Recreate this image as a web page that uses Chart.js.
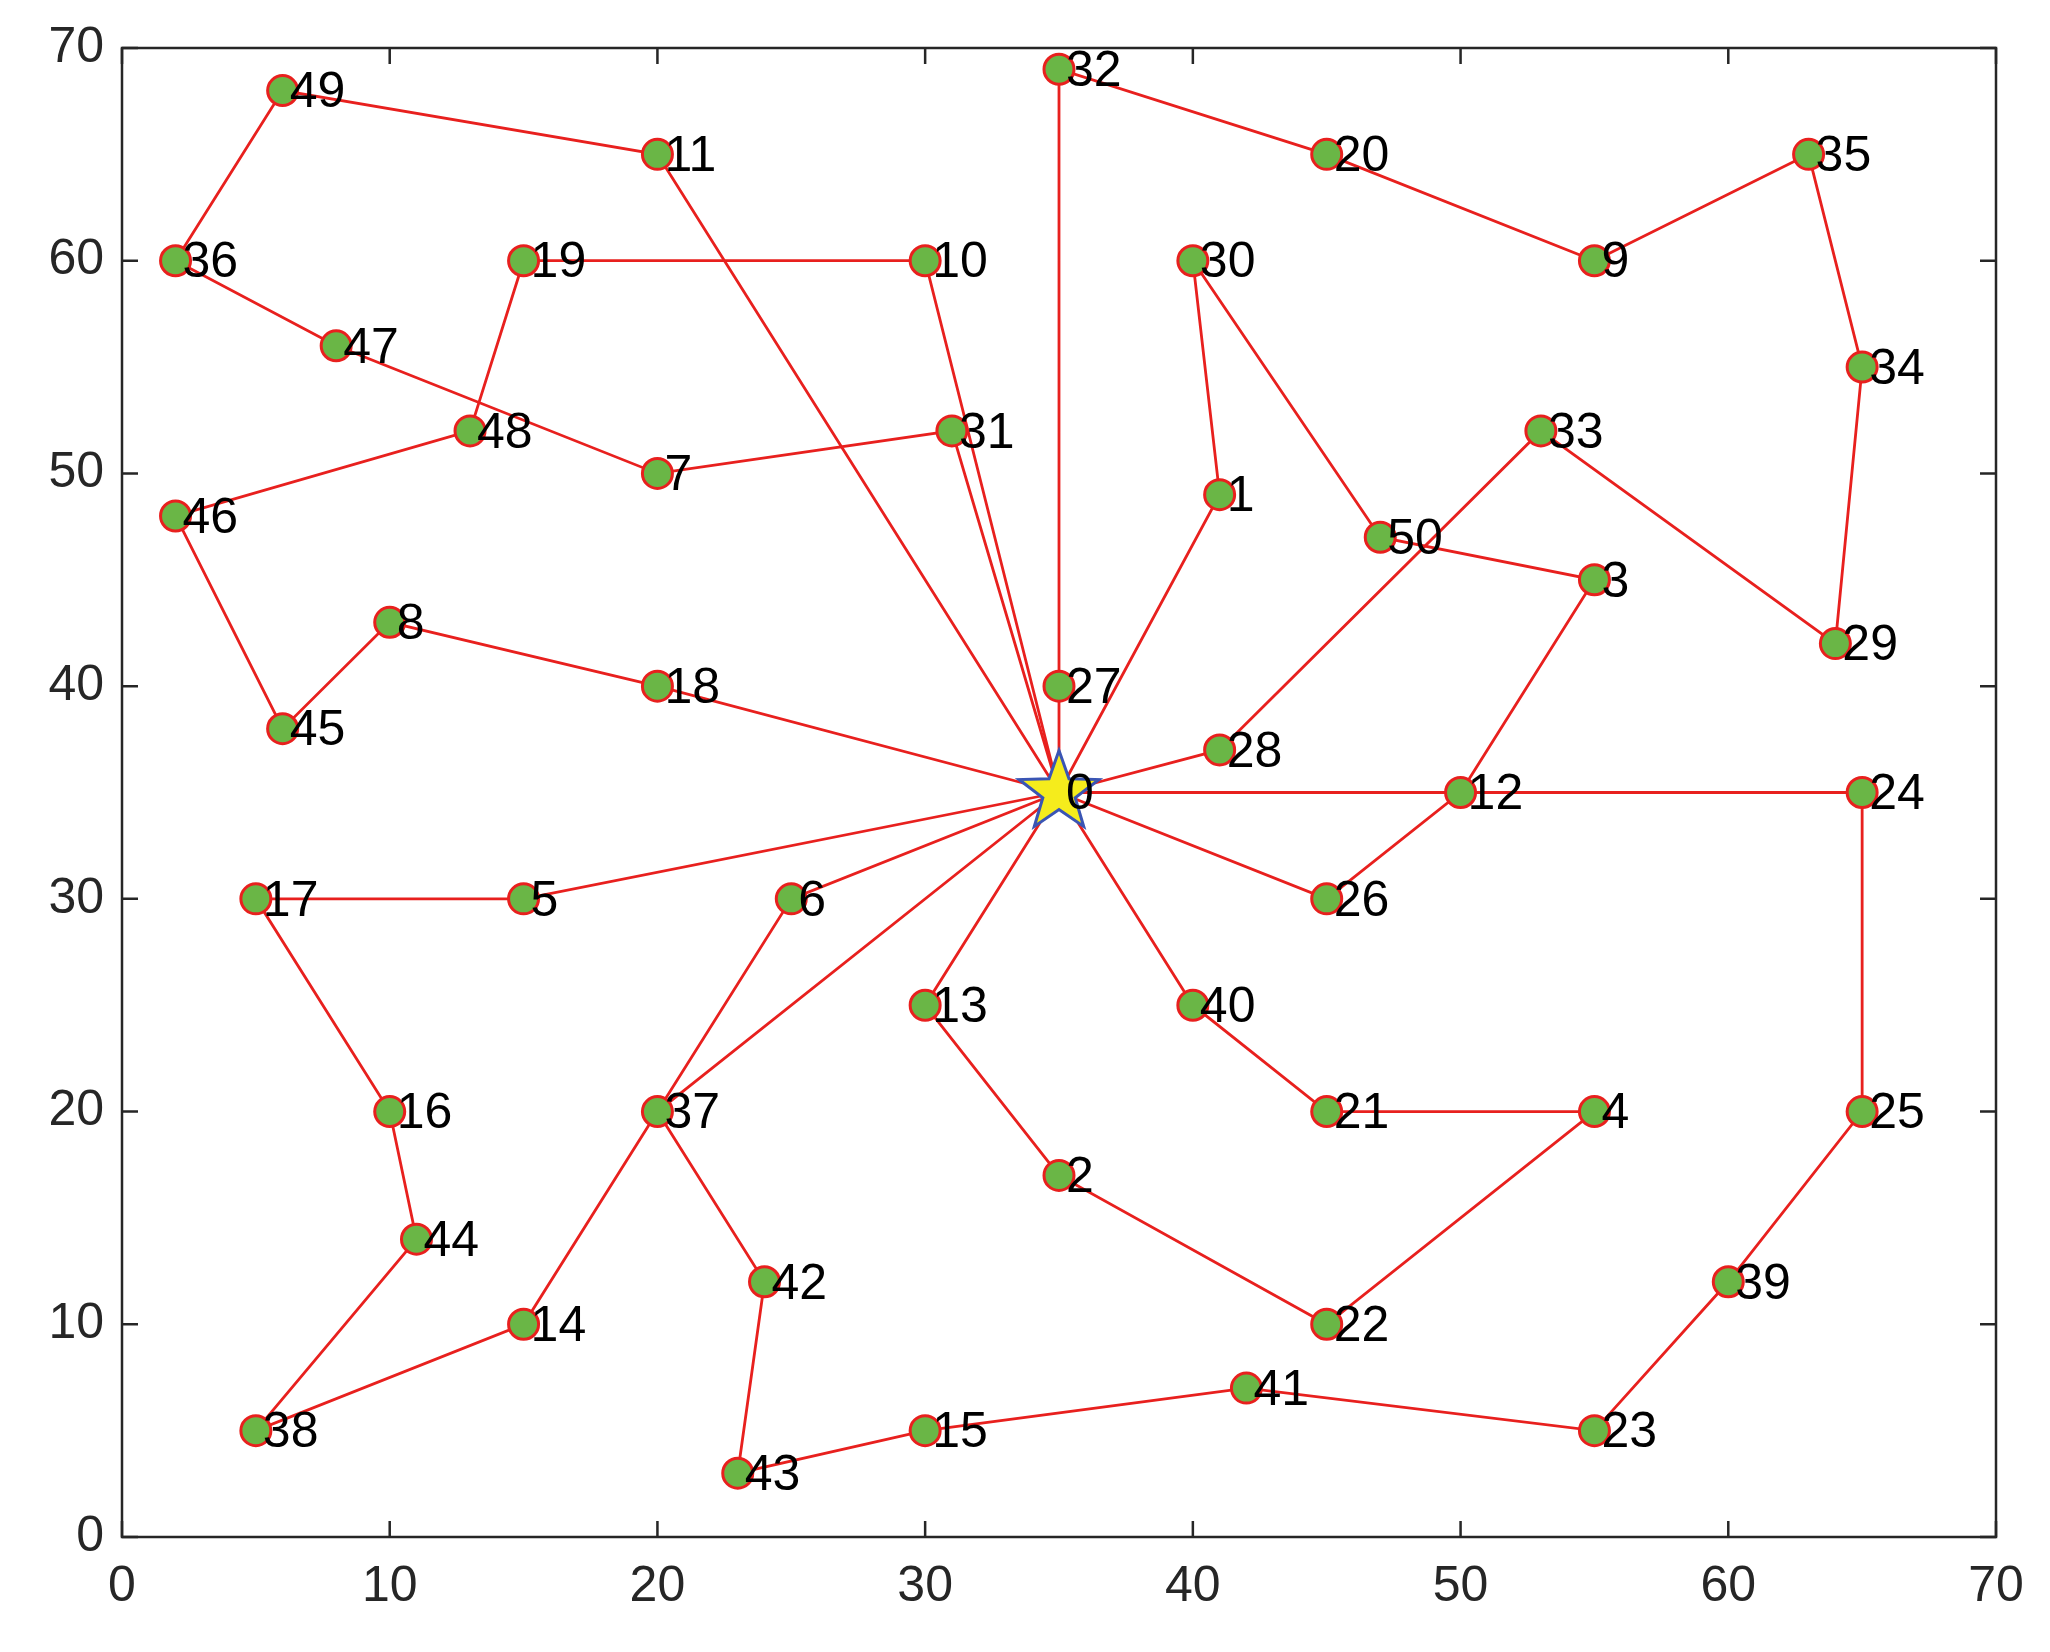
<!DOCTYPE html>
<html><head><meta charset="utf-8">
<script src="https://cdn.jsdelivr.net/npm/chart.js@4"></script>
<style>html,body{margin:0;padding:0;background:#fff}</style>
</head><body>
<canvas id="c" width="2050" height="1652"></canvas>
<script>
const nodeIds = [0,1,2,3,4,5,6,7,8,9,10,11,12,13,14,15,16,17,18,19,20,21,22,23,24,25,26,27,28,29,30,31,32,33,34,35,36,37,38,39,40,41,42,43,44,45,46,47,48,49,50];
const nodeX = [35,41,35,55,55,15,25,20,10,55,30,20,50,30,15,30,10,5,20,15,45,45,45,55,65,65,45,35,41,64,40,31,35,53,65,63,2,20,5,60,40,42,24,23,11,6,2,8,13,6,47];
const nodeY = [35,49,17,45,20,30,30,50,43,60,60,65,35,25,10,5,20,30,40,60,65,20,10,5,35,20,30,40,37,42,60,52,69,52,55,65,60,20,5,12,25,7,12,3,14,38,48,56,52,68,47];
const routes = [
  [0,27,32,20,9,35,34,29,33,28,0],
  [0,1,30,50,3,12,26,0],
  [0,24,25,39,23,41,15,43,42,37,0],
  [0,6,37,14,38,44,16,17,5,0],
  [0,40,21,4,22,2,13,0],
  [0,18,8,45,46,48,19,10,0],
  [0,11,49,36,47,7,31,0]
];
const xTicks = [0,10,20,30,40,50,60,70];
const yTicks = [0,10,20,30,40,50,60,70];

const datasets = routes.map(r => ({
  type:'line', data: r.map(i => ({x:nodeX[i], y:nodeY[i]})),
  borderColor:'#e8201e', borderWidth:2.8, pointRadius:0, fill:false, tension:0, order:2
}));
datasets.push({
  type:'scatter', data: nodeIds.slice(1).map(i => ({x:nodeX[i], y:nodeY[i]})),
  backgroundColor:'#6ab646', borderColor:'#e8201e', borderWidth:3, pointRadius:15, order:1
});

const deco = {
  id:'deco',
  afterDatasetsDraw(chart){
    const ctx = chart.ctx, xs = chart.scales.x, ys = chart.scales.y, a = chart.chartArea;
    const cx = xs.getPixelForValue(nodeX[0]), cy = ys.getPixelForValue(nodeY[0]);
    ctx.save();
    ctx.beginPath();
    const R=42, r=17;
    for(let k=0;k<10;k++){
      const ang = -Math.PI/2 + k*Math.PI/5, rr = k%2?r:R;
      const px = cx+rr*Math.cos(ang), py = cy+rr*Math.sin(ang);
      k?ctx.lineTo(px,py):ctx.moveTo(px,py);
    }
    ctx.closePath(); ctx.fillStyle='#f5ec1c'; ctx.fill();
    ctx.strokeStyle='#3a55b4'; ctx.lineWidth=3; ctx.stroke();
    ctx.fillStyle='#000'; ctx.font='50px "Liberation Sans", Arial'; ctx.textBaseline='middle'; ctx.textAlign='left';
    nodeIds.forEach(i => {
      ctx.fillText(String(i), xs.getPixelForValue(nodeX[i])+7, ys.getPixelForValue(nodeY[i])+3);
    });
    ctx.strokeStyle='#262626'; ctx.lineWidth=2.5;
    ctx.strokeRect(a.left,a.top,a.right-a.left,a.bottom-a.top);
    ctx.beginPath();
    xTicks.forEach(v=>{const p=xs.getPixelForValue(v);
      ctx.moveTo(p,a.bottom);ctx.lineTo(p,a.bottom-16);ctx.moveTo(p,a.top);ctx.lineTo(p,a.top+16);});
    yTicks.forEach(v=>{const p=ys.getPixelForValue(v);
      ctx.moveTo(a.left,p);ctx.lineTo(a.left+16,p);ctx.moveTo(a.right,p);ctx.lineTo(a.right-16,p);});
    ctx.stroke();
    ctx.restore();
  }
};

new Chart(document.getElementById('c'), {
  data:{datasets},
  options:{
    responsive:false, animation:false, clip:false,
    layout:{padding:{left:0,right:54,top:48,bottom:0}},
    plugins:{legend:{display:false},tooltip:{enabled:false}},
    scales:{
      x:{type:'linear',min:0,max:70,
        afterBuildTicks(s){s.ticks=xTicks.map(v=>({value:v}));},
        afterFit(s){s.height=115;},
        grid:{display:false}, border:{display:false},
        ticks:{color:'#262626',font:{size:50,family:'"Liberation Sans", Arial'},padding:12,maxRotation:0}},
      y:{type:'linear',min:0,max:70,
        afterBuildTicks(s){s.ticks=yTicks.map(v=>({value:v}));},
        afterFit(s){s.width=122;},
        grid:{display:false}, border:{display:false},
        ticks:{color:'#262626',font:{size:50,family:'"Liberation Sans", Arial'},padding:10}}
    }
  },
  plugins:[deco]
});
</script>
</body></html>
